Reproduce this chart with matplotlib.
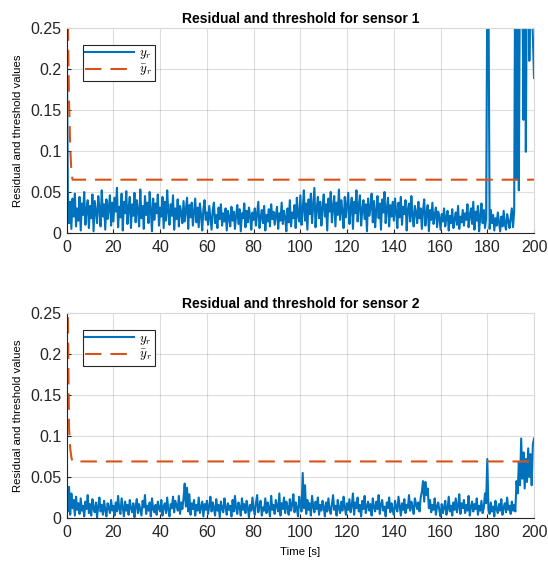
import numpy as np
import matplotlib.pyplot as plt

plt.rcParams["font.family"] = ["Liberation Sans", "DejaVu Sans"]
plt.rcParams["mathtext.fontset"] = "cm"

BLUE = "#0072BD"
ORANGE = "#D95319"
AX_COL = "#262626"

# sample times, 0.5 s step
t = np.arange(401) * 0.5

# residual of sensor 1 (units of 1e-3)
r1_milli = [
    250, 50, 12, 38, 5, 42, 20, 48, 8, 30, 15, 44, 3, 36, 22, 50, 10, 28, 40, 6,
    33, 18, 47, 2, 39, 25, 12, 45, 30, 8, 52, 20, 35, 4, 41, 17, 29, 46, 9, 37,
    14, 43, 26, 55, 7, 32, 19, 48, 3, 38, 24, 51, 11, 30, 44, 6, 35, 21, 49, 13,
    40, 27, 8, 53, 18, 33, 5, 45, 22, 37, 12, 50, 28, 2, 42, 16, 36, 24, 47, 9,
    31, 20, 44, 6, 38, 15, 52, 26, 10, 35, 21, 46, 4, 30, 17, 41, 8, 33, 25, 12,
    39, 14, 28, 43, 5, 34, 19, 37, 9, 26, 42, 13, 31, 7, 36, 22, 3, 29, 40, 16,
    25, 10, 33, 18, 4, 28, 37, 12, 22, 6, 31, 17, 35, 9, 24, 14, 30, 3, 27, 19,
    8, 32, 15, 26, 5, 21, 34, 11, 29, 2, 24, 18, 36, 7, 27, 13, 31, 20, 4, 25,
    16, 30, 9, 23, 38, 6, 19, 28, 12, 33, 3, 22, 14, 29, 8, 35, 17, 26, 10, 21,
    32, 5, 24, 15, 37, 11, 27, 19, 2, 30, 13, 40, 8, 25, 18, 34, 6, 43, 21, 14,
    46, 10, 28, 52, 15, 36, 4, 41, 23, 48, 12, 33, 55, 7, 29, 44, 18, 38, 9, 31,
    47, 20, 35, 3, 42, 26, 50, 13, 32, 45, 8, 37, 22, 53, 16, 40, 27, 6, 44, 19,
    34, 49, 11, 30, 43, 5, 38, 24, 52, 14, 33, 46, 9, 28, 40, 17, 35, 2, 42, 21,
    31, 48, 13, 39, 7, 27, 45, 18, 36, 4, 41, 25, 50, 12, 30, 43, 8, 34, 20, 38,
    15, 42, 26, 6, 37, 19, 44, 10, 32, 23, 40, 3, 29, 36, 14, 45, 21, 8, 33, 25,
    12, 38, 18, 30, 5, 27, 41, 9, 24, 34, 2, 28, 16, 37, 11, 22, 31, 7, 26, 19,
    4, 23, 14, 30, 8, 19, 27, 3, 21, 12, 29, 6, 17, 25, 10, 33, 5, 20, 13, 28,
    9, 24, 16, 35, 7, 22, 30, 11, 38, 4, 26, 15, 33, 2, 20, 36, 12, 28, 6, 18,
    300, 300, 5, 28, 12, 22, 3, 18, 9, 25, 14, 2, 20, 8, 27, 11, 4, 23, 15, 6,
    18, 30, 7, 26, 380, 65, 400, 52, 350, 420, 300, 138, 390, 99, 360, 410, 210, 330, 280, 240,
    189,
]

# residual of sensor 2 (units of 1e-3)
r2_milli = [
    49, 8, 38, 4, 30, 12, 22, 3, 26, 10, 18, 5, 24, 9, 15, 2, 20, 11, 28, 6,
    17, 3, 23, 12, 7, 19, 1, 14, 25, 8, 16, 4, 21, 10, 2, 18, 13, 6, 22, 9,
    15, 3, 19, 8, 27, 11, 5, 24, 13, 2, 20, 9, 16, 4, 22, 12, 7, 18, 1, 14,
    23, 6, 17, 10, 3, 21, 13, 28, 5, 15, 9, 19, 2, 24, 11, 7, 16, 4, 20, 12,
    8, 22, 3, 14, 18, 6, 25, 10, 2, 17, 12, 26, 7, 21, 15, 9, 27, 5, 19, 11,
    24, 42, 14, 37, 8, 29, 4, 18, 11, 22, 3, 16, 9, 25, 6, 13, 20, 2, 17, 10,
    21, 5, 14, 26, 8, 19, 12, 3, 23, 9, 16, 1, 20, 11, 7, 24, 13, 4, 18, 10,
    15, 2, 22, 8, 27, 12, 5, 19, 14, 3, 24, 10, 17, 6, 21, 13, 1, 16, 9, 25,
    11, 4, 18, 28, 7, 15, 21, 3, 13, 9, 24, 6, 19, 12, 2, 27, 10, 16, 5, 22,
    14, 8, 30, 3, 18, 11, 25, 6, 20, 13, 4, 23, 9, 16, 29, 7, 19, 12, 2, 26,
    15, 8, 55, 12, 40, 5, 22, 10, 18, 3, 27, 14, 7, 20, 11, 25, 4, 16, 9, 21,
    13, 2, 19, 8, 24, 11, 5, 17, 28, 10, 15, 3, 22, 12, 6, 20, 9, 26, 14, 4,
    18, 10, 23, 7, 15, 30, 4, 19, 12, 25, 8, 16, 2, 21, 11, 27, 6, 14, 20, 9,
    17, 3, 24, 13, 8, 20, 11, 28, 5, 16, 22, 9, 14, 2, 19, 12, 25, 7, 18, 10,
    4, 21, 13, 8, 26, 15, 3, 18, 10, 23, 6, 16, 12, 28, 9, 20, 14, 5, 24, 17,
    11, 19, 8, 25, 32, 45, 20, 44, 28, 36, 12, 22, 7, 16, 10, 24, 4, 14, 19, 9,
    2, 17, 6, 13, 21, 4, 11, 26, 8, 15, 3, 19, 10, 24, 7, 14, 29, 5, 18, 12,
    22, 6, 16, 9, 27, 3, 13, 20, 8, 17, 11, 24, 4, 15, 9, 21, 6, 12, 30, 18,
    72, 10, 5, 19, 8, 14, 2, 21, 11, 6, 17, 9, 23, 4, 13, 18, 7, 25, 10, 15,
    5, 20, 9, 16, 8, 45, 30, 68, 40, 97, 48, 80, 36, 72, 44, 85, 50, 78, 40, 90,
    97,
]

# thresholds: fast initial decay then constant
thr_t = [0, 0.5, 1.0, 1.5, 2.0, 2.5, 200]
thr1 = [0.40, 0.26, 0.16, 0.105, 0.075, 0.065, 0.065]
thr2 = [0.40, 0.25, 0.11, 0.085, 0.074, 0.069, 0.069]

residuals = [np.array(r1_milli) / 1000, np.array(r2_milli) / 1000]
thresholds = [thr1, thr2]
titles = ["Residual and threshold for sensor 1", "Residual and threshold for sensor 2"]
x_ticks = np.arange(0, 201, 20)
y_ticks = [0, 0.05, 0.1, 0.15, 0.2, 0.25]
y_labels = ["0", "0.05", "0.1", "0.15", "0.2", "0.25"]

fig = plt.figure(figsize=(5.48, 5.61), dpi=100)
positions = [[0.1217, 0.5847, 0.8528, 0.3654], [0.1217, 0.0766, 0.8528, 0.3654]]

for i in range(2):
    ax = fig.add_axes(positions[i])
    ax.plot(t, residuals[i], color=BLUE, lw=1.5, label=r"$y_r$")
    ax.plot(thr_t, thresholds[i], color=ORANGE, lw=1.5, dashes=(7.9, 4.3),
            label=r"$\bar{y}_r$")
    ax.set_xlim(0, 200)
    ax.set_ylim(0, 0.25)
    ax.set_xticks(x_ticks)
    ax.set_yticks(y_ticks)
    ax.set_yticklabels(y_labels)
    ax.grid(True, color=AX_COL, alpha=0.15, lw=0.8)
    ax.tick_params(direction="in", length=3, labelsize=11.5, colors=AX_COL,
                   top=False, right=False)
    ax.tick_params(axis="x", pad=5)
    ax.tick_params(axis="y", pad=4)
    for side in ["left", "bottom"]:
        ax.spines[side].set_color(AX_COL)
        ax.spines[side].set_linewidth(0.8)
    for side in ["top", "right"]:
        ax.spines[side].set_color("#d9d9d9")
        ax.spines[side].set_linewidth(0.8)
    ax.set_title(titles[i], fontsize=10, fontweight="bold", pad=3.5)
    ax.set_ylabel("Residual and threshold values", fontsize=8.2, labelpad=5)
    leg = ax.legend(loc="upper left", bbox_to_anchor=(0.034, 0.919),
                    borderaxespad=0, fontsize=9.5, fancybox=False, framealpha=1,
                    edgecolor=AX_COL, handlelength=3.7, handletextpad=0.4,
                    borderpad=0.2, labelspacing=0.12)
    leg.get_frame().set_linewidth(0.8)
    if i == 1:
        ax.set_xlabel("Time [s]", fontsize=8.2, labelpad=5)

fig.savefig("out.png", dpi=100)
